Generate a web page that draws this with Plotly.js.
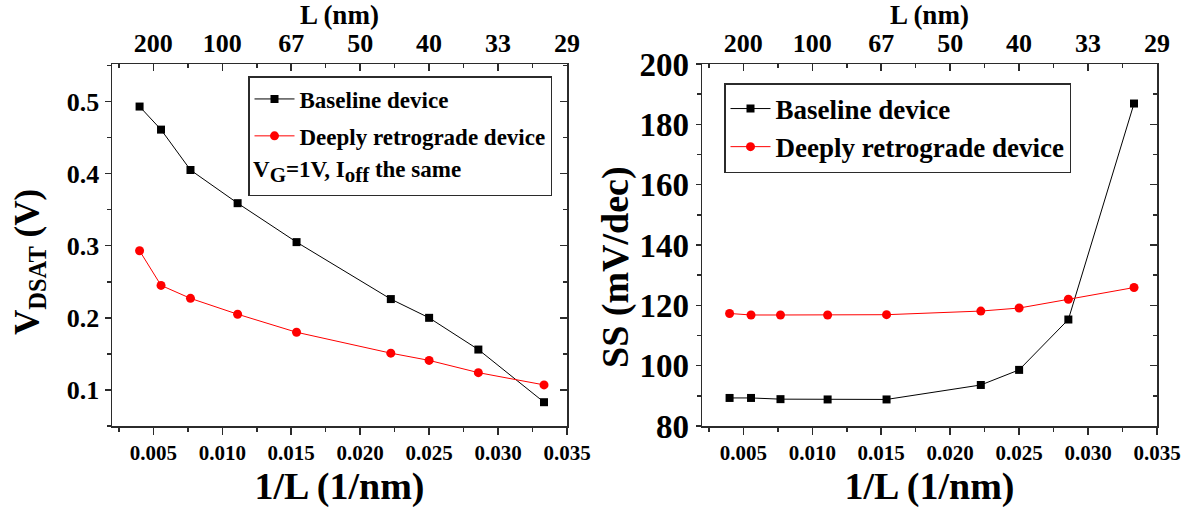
<!DOCTYPE html>
<html>
<head>
<meta charset="utf-8">
<script src="https://cdn.plot.ly/plotly-3.0.1.min.js"></script>
<style>
  html, body { margin: 0; padding: 0; background: #fff; }
  #chart { width: 1196px; height: 508px; }
</style>
</head>
<body>
<div id="chart"></div>
<script>
// Inverse gate length 1/L (1/nm) for L = 250, 180, 130, 90, 65, 45, 40, 35, 30 nm
const invL = [0.004, 0.005556, 0.007692, 0.011111, 0.015385, 0.022222, 0.025, 0.028571, 0.033333];

// Saturation drain voltage V_DSAT (V)
const vdsatBaseline = [0.493, 0.461, 0.405, 0.359, 0.305, 0.226, 0.200, 0.156, 0.083];
const vdsatRetro    = [0.293, 0.245, 0.227, 0.205, 0.180, 0.151, 0.141, 0.124, 0.107];

// Subthreshold swing SS (mV/dec)
const ssBaseline = [89.3, 89.3, 88.9, 88.8, 88.8, 93.6, 98.6, 115.3, 186.9];
const ssRetro    = [117.3, 116.8, 116.8, 116.8, 116.9, 118.1, 119.1, 122.0, 125.9];

// Secondary (top) axis: gate length labels at 1/L positions
const topTickVals = [0.005, 0.010, 0.015, 0.020, 0.025, 0.030, 0.035];
const topTickText = ['200', '100', '67', '50', '40', '33', '29'];

const seriesNames = ['Baseline device', 'Deeply retrograde device'];
const noteText = 'V<sub><span style="font-size:21px">G</span></sub>=1V, I<sub><span style="font-size:21px">off</span></sub> the same';

const FONT = 'Liberation Serif, Times New Roman, serif';
const AX = '#2b2b2b';
const W = 1196, H = 508;

function px(x) { return x / W; }
function py(y) { return 1 - y / H; }

function line(x, y, name, color, symbol, xa, ya, leg, grp) {
  return {
    type: 'scatter', mode: 'lines+markers', x: x, y: y, name: name,
    xaxis: xa, yaxis: ya, legend: leg, legendgroup: grp,
    line: { color: color, width: 1 },
    marker: { color: color, symbol: symbol, size: symbol === 'square' ? 8 : 9 },
    hoverinfo: 'skip'
  };
}

// invisible copy of a series, so the top and right tick axes get a subplot
function ghost(x, y, xa, ya) {
  return {
    type: 'scatter', mode: 'markers', x: x, y: y, xaxis: xa, yaxis: ya,
    marker: { opacity: 0, size: 1 }, showlegend: false, hoverinfo: 'skip'
  };
}

const traces = [
  line(invL, vdsatBaseline, seriesNames[0], '#000000', 'square', 'x', 'y', 'legend', 'a'),
  line(invL, vdsatRetro, seriesNames[1], '#ff0000', 'circle', 'x', 'y', 'legend', 'b'),
  // blank row in the first legend, filled by the bias-condition note
  { type: 'scatter', mode: 'lines', x: [null], y: [null], name: '\u00a0', xaxis: 'x', yaxis: 'y',
    legend: 'legend', legendgroup: 'c', showlegend: true,
    line: { color: 'rgba(0,0,0,0)', width: 0 }, hoverinfo: 'skip' },
  line(invL, ssBaseline, seriesNames[0], '#000000', 'square', 'x2', 'y2', 'legend2', 'a'),
  line(invL, ssRetro, seriesNames[1], '#ff0000', 'circle', 'x2', 'y2', 'legend2', 'b'),
  ghost(invL, vdsatBaseline, 'x3', 'y'),
  ghost(invL, vdsatBaseline, 'x', 'y3'),
  ghost(invL, ssBaseline, 'x4', 'y2'),
  ghost(invL, ssBaseline, 'x2', 'y4')
];

const xRange = [0.002, 0.035];
const boldFont = (size) => ({ family: FONT, size: size, color: '#000', weight: 'bold' });

function bottomX(domain, anchor) {
  return {
    domain: domain, anchor: anchor, range: xRange,
    tickmode: 'linear', tick0: 0, dtick: 0.005, tickformat: '.3f',
    ticks: 'outside', ticklen: 7, tickwidth: 1.5, tickcolor: AX,
    minor: { ticks: 'outside', tick0: 0, dtick: 0.0025, ticklen: 4, tickwidth: 1.5, tickcolor: AX, showgrid: false },
    showline: true, mirror: true, linecolor: AX, linewidth: 1.5,
    showgrid: false, zeroline: false,
    tickfont: boldFont(21),
    title: { text: '1/L (1/nm)', font: boldFont(38), standoff: 0 }
  };
}

function topX(over, anchor) {
  return {
    overlaying: over, anchor: anchor, side: 'top', range: xRange,
    tickmode: 'array', tickvals: topTickVals, ticktext: topTickText,
    ticks: 'inside', ticklen: 7, tickwidth: 1.5, tickcolor: AX,
    minor: { ticks: 'inside', tick0: 0, dtick: 0.0025, ticklen: 4, tickwidth: 1.5, tickcolor: AX, showgrid: false },
    showline: false, showgrid: false, zeroline: false,
    ticklabelstandoff: 6,
    tickfont: boldFont(26),
    title: { text: 'L (nm)', font: boldFont(27), standoff: 0 }
  };
}

function rightY(over, anchor, range, dtick, minorDtick) {
  return {
    overlaying: over, anchor: anchor, side: 'right', range: range,
    tickmode: 'linear', tick0: 0, dtick: dtick, showticklabels: false,
    ticks: 'inside', ticklen: 7, tickwidth: 1.5, tickcolor: AX,
    minor: { ticks: 'inside', tick0: 0, dtick: minorDtick, ticklen: 4, tickwidth: 1.5, tickcolor: AX, showgrid: false },
    showline: false, showgrid: false, zeroline: false
  };
}

const yDomain = [py(426), py(64)];

const layout = {
  width: W, height: H,
  margin: { l: 0, r: 0, t: 0, b: 0, pad: 0 },
  paper_bgcolor: '#fff', plot_bgcolor: '#fff',
  hovermode: false,
  font: { family: FONT, color: '#000', weight: 'bold' },

  xaxis: bottomX([px(112), px(567)], 'y'),
  xaxis2: bottomX([px(702), px(1157)], 'y2'),
  xaxis3: topX('x', 'y'),
  xaxis4: topX('x2', 'y2'),

  yaxis: {
    domain: yDomain, anchor: 'x', range: [0.05, 0.552],
    tickmode: 'linear', tick0: 0, dtick: 0.1, tickformat: '.1f',
    ticks: 'outside', ticklen: 6, tickwidth: 1.5, tickcolor: AX,
    minor: { ticks: 'outside', tick0: 0, dtick: 0.05, ticklen: 4, tickwidth: 1.5, tickcolor: AX, showgrid: false },
    showline: true, mirror: true, linecolor: AX, linewidth: 1.5,
    showgrid: false, zeroline: false,
    tickfont: boldFont(26)
  },
  yaxis2: {
    domain: yDomain, anchor: 'x2', range: [80, 200],
    tickmode: 'linear', tick0: 0, dtick: 20,
    ticks: 'outside', ticklen: 5, tickwidth: 1.5, tickcolor: AX,
    minor: { ticks: 'outside', tick0: 0, dtick: 10, ticklen: 4, tickwidth: 1.5, tickcolor: AX, showgrid: false },
    showline: true, mirror: true, linecolor: AX, linewidth: 1.5,
    showgrid: false, zeroline: false,
    tickfont: boldFont(33)
  },
  yaxis3: rightY('y', 'x', [0.05, 0.552], 0.1, 0.05),
  yaxis4: rightY('y2', 'x2', [80, 200], 20, 10),

  legend: {
    x: px(248), y: py(76), xanchor: 'left', yanchor: 'top',
    bgcolor: '#fff', bordercolor: AX, borderwidth: 1.5,
    traceorder: 'grouped', tracegroupgap: 4, itemwidth: 40,
    font: boldFont(23)
  },
  legend2: {
    x: px(724), y: py(83), xanchor: 'left', yanchor: 'top',
    bgcolor: '#fff', bordercolor: AX, borderwidth: 1.5,
    traceorder: 'grouped', tracegroupgap: 0, itemwidth: 40,
    font: boldFont(27)
  },

  annotations: [
    {
      // bias condition shared by both devices
      xref: 'paper', yref: 'paper', x: px(251), y: py(172),
      xanchor: 'left', yanchor: 'middle', showarrow: false,
      text: noteText, font: boldFont(23)
    },
    {
      xref: 'paper', yref: 'paper', x: px(29), y: py(262),
      xanchor: 'center', yanchor: 'middle', showarrow: false, textangle: -90,
      text: 'V<sub>DSAT</sub> (V)', font: boldFont(35)
    },
    {
      xref: 'paper', yref: 'paper', x: px(615), y: py(267),
      xanchor: 'center', yanchor: 'middle', showarrow: false, textangle: -90,
      text: 'SS (mV/dec)', font: boldFont(38)
    }
  ]
};

Plotly.newPlot('chart', traces, layout, { displayModeBar: false, staticPlot: true });
</script>
</body>
</html>
